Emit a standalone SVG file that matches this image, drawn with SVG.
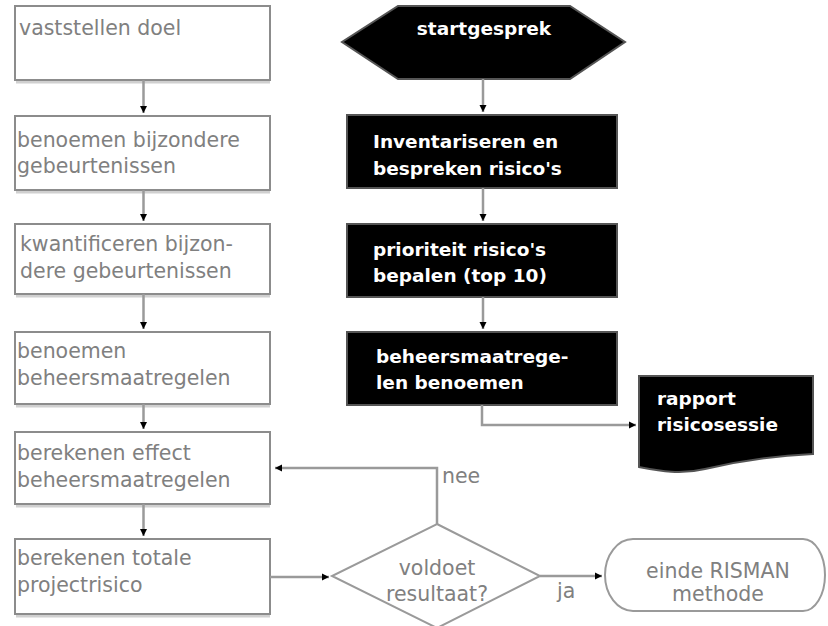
<svg xmlns="http://www.w3.org/2000/svg" width="828" height="626" viewBox="0 0 828 626">
<defs>
<marker id="arr" markerUnits="userSpaceOnUse" markerWidth="10" markerHeight="10" refX="7" refY="4" orient="auto">
<path d="M0,0.5 L7,4 L0,7.5 Z" fill="#000"/>
</marker>
<style>
.box{fill:#fff;stroke:#8c8c8c;stroke-width:2}
.shadow{stroke:#d0d0d0;stroke-width:3}
.blk{fill:#000;stroke:#555;stroke-width:2}
.lt{font-family:"DejaVu Sans",Verdana,sans-serif;font-size:20.5px;fill:#808080}
.wt{font-family:"DejaVu Sans",Verdana,sans-serif;font-size:18.5px;font-weight:bold;fill:#fff}
.con{fill:none;stroke:#9a9a9a;stroke-width:2.5}
</style>
</defs>
<rect width="828" height="626" fill="#fff"/>

<g id="n1">
<line class="shadow" x1="16" y1="82" x2="270" y2="82"/>
<rect class="box" x="15" y="6" width="255" height="74"/>
<text class="lt" x="19" y="35">vaststellen doel</text>
</g>
<g id="n2">
<line class="shadow" x1="16" y1="192" x2="270" y2="192"/>
<rect class="box" x="15" y="116" width="255" height="74"/>
<text class="lt" x="17" y="147">benoemen bijzondere</text>
<text class="lt" x="17" y="173">gebeurtenissen</text>
</g>
<g id="n3">
<line class="shadow" x1="16" y1="296" x2="270" y2="296"/>
<rect class="box" x="15" y="224" width="255" height="70"/>
<text class="lt" x="20" y="251">kwantificeren bijzon-</text>
<text class="lt" x="20" y="278">dere gebeurtenissen</text>
</g>
<g id="n4">
<line class="shadow" x1="16" y1="406" x2="270" y2="406"/>
<rect class="box" x="15" y="332" width="255" height="72"/>
<text class="lt" x="17" y="358">benoemen</text>
<text class="lt" x="17" y="385">beheersmaatregelen</text>
</g>
<g id="n5">
<line class="shadow" x1="16" y1="506" x2="270" y2="506"/>
<rect class="box" x="15" y="432" width="255" height="72"/>
<text class="lt" x="17" y="460">berekenen effect</text>
<text class="lt" x="17" y="487">beheersmaatregelen</text>
</g>
<g id="n6">
<line class="shadow" x1="16" y1="616" x2="270" y2="616"/>
<rect class="box" x="15" y="539" width="255" height="75"/>
<text class="lt" x="17" y="565">berekenen totale</text>
<text class="lt" x="17" y="592">projectrisico</text>
</g>

<g id="start">
<polygon class="blk" points="398,6 570,6 625,42 570,79 398,79 342,42"/>
<text class="wt" x="484" y="35" text-anchor="middle">startgesprek</text>
</g>
<g id="inv">
<rect class="blk" x="347" y="115" width="270" height="73"/>
<text class="wt" x="373" y="148">Inventariseren en</text>
<text class="wt" x="373" y="175">bespreken risico's</text>
</g>
<g id="prio">
<rect class="blk" x="347" y="224" width="270" height="73"/>
<text class="wt" x="373" y="256">prioriteit risico's</text>
<text class="wt" x="373" y="282">bepalen (top 10)</text>
</g>
<g id="beh">
<rect class="blk" x="347" y="332" width="270" height="73"/>
<text class="wt" x="376" y="363">beheersmaatrege-</text>
<text class="wt" x="376" y="389">len benoemen</text>
</g>
<g id="rapport">
<path class="blk" d="M639,376 H813 V454 C770,456 735,462 705,469 C680,475 660,471 639,467 Z"/>
<text class="wt" x="657" y="405">rapport</text>
<text class="wt" x="657" y="431">risicosessie</text>
</g>

<g id="dec">
<polygon fill="#fff" stroke="#9a9a9a" stroke-width="2" points="437,524 540,576 437,628 332,576"/>
<text class="lt" x="437" y="575" text-anchor="middle">voldoet</text>
<text class="lt" x="437" y="601" text-anchor="middle">resultaat?</text>
</g>
<g id="einde">
<path fill="#fff" stroke="#9a9a9a" stroke-width="2" d="M633,539 H803 A22,36 0 0 1 803,611 H633 A28,36 0 0 1 633,539 Z"/>
<text class="lt" x="718" y="578" text-anchor="middle">einde RISMAN</text>
<text class="lt" x="718" y="601" text-anchor="middle">methode</text>
</g>

<g id="connectors">
<line class="con" x1="143.5" y1="80" x2="143.5" y2="113" marker-end="url(#arr)"/>
<line class="con" x1="143.5" y1="190" x2="143.5" y2="221" marker-end="url(#arr)"/>
<line class="con" x1="143.5" y1="294" x2="143.5" y2="329" marker-end="url(#arr)"/>
<line class="con" x1="143.5" y1="404" x2="143.5" y2="429" marker-end="url(#arr)"/>
<line class="con" x1="143.5" y1="504" x2="143.5" y2="536" marker-end="url(#arr)"/>
<line class="con" x1="483" y1="79" x2="483" y2="112" marker-end="url(#arr)"/>
<line class="con" x1="483" y1="188" x2="483" y2="221" marker-end="url(#arr)"/>
<line class="con" x1="483" y1="297" x2="483" y2="329" marker-end="url(#arr)"/>
<polyline class="con" points="482,405 482,425 636,425" marker-end="url(#arr)"/>
<polyline class="con" points="437,524 437,468 275,468" marker-end="url(#arr)"/>
<line class="con" x1="270" y1="577" x2="329" y2="577" marker-end="url(#arr)"/>
<line class="con" x1="540" y1="576" x2="602" y2="576" marker-end="url(#arr)"/>
<text class="lt" x="442" y="483">nee</text>
<text class="lt" x="557" y="598">ja</text>
</g>
</svg>
